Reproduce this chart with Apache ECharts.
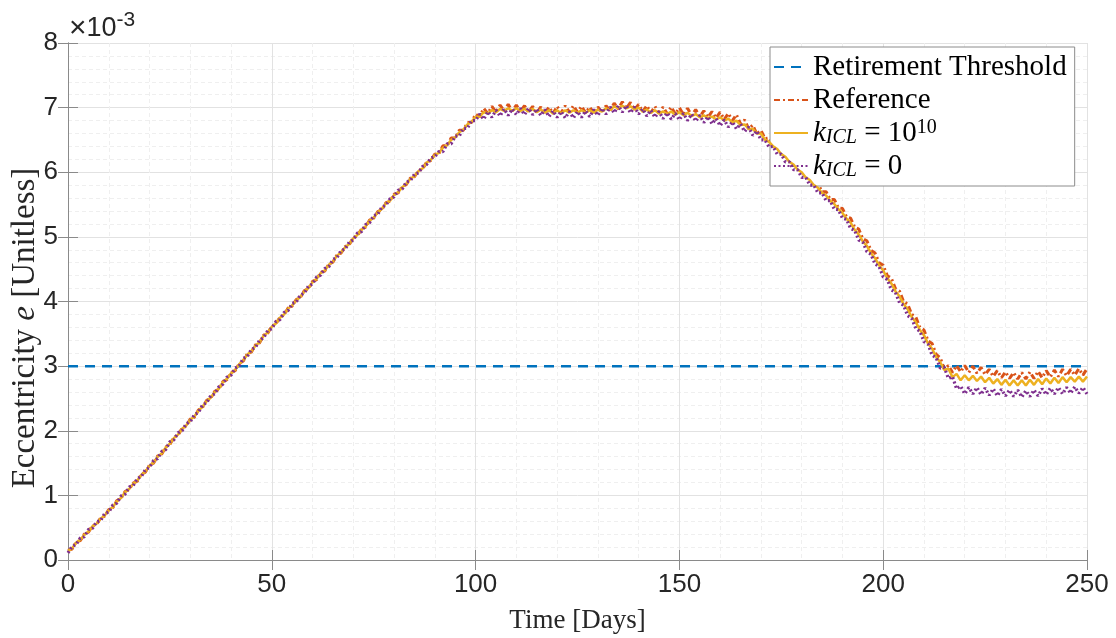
<!DOCTYPE html>
<html>
<head>
<meta charset="UTF-8">
<title>Eccentricity</title>
<script src="https://cdn.jsdelivr.net/npm/echarts@6/dist/echarts.min.js"></script>
<style>
  html, body { margin: 0; padding: 0; background: #ffffff; }
  #main { width: 1116px; height: 638px; }
</style>
</head>
<body>
<div id="main"></div>
<script>
// eccentricity in units of 1e-3, one value per day (day 0 .. 250)
var thresholdDays = [0, 250];
var thresholdValues = [3, 3];

var reference = [
  0.15,0.17,0.28,0.30,0.40,0.43,0.53,0.55,0.65,0.68,0.78,
  0.81,0.92,0.95,1.06,1.09,1.19,1.22,1.33,1.36,1.47,
  1.50,1.61,1.64,1.75,1.79,1.90,1.93,2.04,2.07,2.18,
  2.21,2.32,2.36,2.47,2.50,2.61,2.64,2.76,2.79,2.90,
  2.93,3.04,3.08,3.19,3.22,3.33,3.36,3.48,3.51,3.62,
  3.65,3.76,3.79,3.90,3.93,4.03,4.06,4.17,4.20,4.31,
  4.34,4.45,4.47,4.58,4.61,4.72,4.75,4.85,4.88,4.99,
  5.02,5.12,5.15,5.26,5.29,5.39,5.42,5.53,5.55,5.66,
  5.68,5.78,5.81,5.91,5.93,6.03,6.05,6.16,6.18,6.28,
  6.29,6.41,6.41,6.53,6.53,6.65,6.65,6.77,6.77,6.90,
  6.86,6.99,6.91,7.02,6.93,7.04,6.95,7.05,6.95,7.04,
  6.94,7.03,6.93,7.02,6.92,7.01,6.91,7.01,6.91,7.02,
  6.92,7.03,6.93,7.03,6.93,7.02,6.92,7.01,6.91,7.01,
  6.92,7.03,6.95,7.07,6.98,7.09,6.99,7.08,6.97,7.05,
  6.94,7.03,6.92,7.02,6.91,7.01,6.91,7.01,6.90,7.00,
  6.89,6.99,6.88,6.97,6.86,6.95,6.85,6.94,6.84,6.93,
  6.82,6.91,6.80,6.89,6.75,6.81,6.67,6.73,6.59,6.65,
  6.52,6.53,6.42,6.42,6.30,6.30,6.18,6.18,6.06,6.06,
  5.94,5.94,5.82,5.82,5.70,5.70,5.58,5.58,5.45,5.44,
  5.31,5.29,5.15,5.12,4.97,4.94,4.79,4.75,4.60,4.56,
  4.40,4.36,4.20,4.16,4.00,3.96,3.80,3.76,3.60,3.56,
  3.39,3.35,3.18,3.13,2.95,3.01,2.90,3.01,2.91,3.01,
  2.90,3.00,2.89,2.98,2.87,2.95,2.84,2.93,2.82,2.91,
  2.81,2.90,2.80,2.90,2.80,2.91,2.81,2.92,2.82,2.93,
  2.83,2.94,2.84,2.95,2.85,2.95,2.86,2.96,2.86,2.96
];

var kHigh = [
  0.14,0.18,0.27,0.31,0.39,0.44,0.52,0.56,0.64,0.69,0.77,
  0.82,0.91,0.96,1.05,1.10,1.18,1.23,1.32,1.37,1.46,
  1.51,1.60,1.65,1.74,1.80,1.89,1.94,2.03,2.08,2.17,
  2.22,2.31,2.37,2.46,2.51,2.60,2.65,2.75,2.80,2.89,
  2.94,3.03,3.09,3.18,3.23,3.32,3.37,3.47,3.52,3.61,
  3.66,3.75,3.80,3.89,3.94,4.02,4.07,4.16,4.21,4.30,
  4.35,4.44,4.48,4.57,4.62,4.71,4.76,4.84,4.89,4.98,
  5.03,5.11,5.16,5.25,5.30,5.38,5.43,5.52,5.56,5.65,
  5.69,5.77,5.82,5.90,5.94,6.02,6.06,6.15,6.19,6.27,
  6.30,6.38,6.42,6.50,6.54,6.62,6.66,6.74,6.78,6.86,
  6.86,6.93,6.91,6.96,6.93,6.98,6.95,6.99,6.95,6.99,
  6.95,6.98,6.94,6.98,6.93,6.97,6.92,6.96,6.91,6.96,
  6.91,6.96,6.92,6.96,6.92,6.96,6.92,6.96,6.92,6.97,
  6.94,6.99,6.96,7.02,6.99,7.03,6.99,7.02,6.97,7.00,
  6.94,6.97,6.92,6.96,6.91,6.94,6.90,6.94,6.89,6.93,
  6.88,6.92,6.87,6.90,6.85,6.88,6.84,6.86,6.82,6.85,
  6.80,6.83,6.77,6.80,6.73,6.74,6.67,6.67,6.60,6.60,
  6.50,6.47,6.40,6.36,6.28,6.24,6.16,6.12,6.04,6.00,
  5.92,5.88,5.80,5.76,5.68,5.64,5.56,5.51,5.43,5.37,
  5.28,5.22,5.11,5.04,4.93,4.86,4.75,4.67,4.56,4.48,
  4.36,4.28,4.16,4.08,3.96,3.88,3.76,3.68,3.56,3.48,
  3.35,3.27,3.14,3.06,2.94,2.96,2.83,2.88,2.78,2.86,
  2.78,2.85,2.77,2.84,2.75,2.82,2.73,2.80,2.71,2.79,
  2.70,2.78,2.70,2.78,2.70,2.79,2.71,2.80,2.72,2.81,
  2.73,2.82,2.74,2.83,2.75,2.83,2.76,2.84,2.76,2.84
];

var kZero = [
  0.11,0.21,0.24,0.34,0.36,0.47,0.49,0.59,0.61,0.72,0.74,
  0.85,0.88,0.99,1.02,1.13,1.15,1.26,1.29,1.40,1.43,
  1.54,1.57,1.68,1.71,1.83,1.86,1.97,2.00,2.11,2.14,
  2.25,2.28,2.40,2.43,2.54,2.57,2.68,2.72,2.83,2.86,
  2.97,3.00,3.12,3.15,3.26,3.29,3.40,3.44,3.55,3.58,
  3.69,3.72,3.83,3.86,3.97,3.99,4.10,4.13,4.24,4.27,
  4.38,4.41,4.51,4.54,4.65,4.68,4.79,4.81,4.92,4.95,
  5.06,5.08,5.19,5.22,5.33,5.35,5.46,5.49,5.59,5.62,
  5.72,5.74,5.85,5.87,5.97,5.99,6.09,6.12,6.22,6.24,
  6.32,6.32,6.44,6.44,6.56,6.56,6.68,6.68,6.80,6.80,
  6.90,6.82,6.94,6.85,6.96,6.87,6.98,6.88,6.98,6.89,
  6.99,6.89,6.99,6.89,6.98,6.88,6.97,6.86,6.95,6.85,
  6.94,6.84,6.94,6.84,6.94,6.85,6.95,6.86,6.97,6.88,
  6.99,6.90,7.01,6.92,7.03,6.93,7.03,6.92,7.01,6.90,
  6.98,6.87,6.96,6.85,6.94,6.83,6.92,6.82,6.91,6.81,
  6.91,6.80,6.90,6.79,6.88,6.77,6.86,6.75,6.83,6.72,
  6.81,6.70,6.78,6.67,6.75,6.63,6.70,6.57,6.64,6.50,
  6.50,6.39,6.40,6.28,6.28,6.16,6.16,6.04,6.04,5.92,
  5.92,5.80,5.80,5.68,5.68,5.56,5.56,5.43,5.42,5.29,
  5.27,5.13,5.10,4.95,4.92,4.77,4.73,4.58,4.54,4.38,
  4.34,4.18,4.14,3.98,3.94,3.78,3.74,3.58,3.54,3.38,
  3.34,3.17,3.13,2.97,2.98,2.81,2.84,2.65,2.69,2.57,
  2.67,2.57,2.67,2.56,2.66,2.55,2.65,2.54,2.64,2.54,
  2.63,2.53,2.63,2.52,2.62,2.53,2.63,2.54,2.65,2.56,
  2.66,2.57,2.67,2.57,2.67,2.58,2.68,2.58,2.67,2.57
];

var xTicks = { min: 0, max: 250, step: 50 };
var yTicks = { min: 0, max: 8, step: 1 };

function byDay(arr) {
  return arr.map(function (v, i) { return [i, v]; });
}

var serif = 'Liberation Serif';
var sans = 'Liberation Sans';
var gridLine = '#e2e2e2';
var minorLine = '#efefef';
var boxColor = '#8a8a8a';

var legendLabels = {
  'Retirement Threshold': '{rm|Retirement Threshold}',
  'Reference': '{rm|Reference}',
  'kHigh': '{it|k}{sub|ICL}{rm| = 10}{sup|10}',
  'kZero': '{it|k}{sub|ICL}{rm| = 0}'
};

var myChart = echarts.init(document.getElementById('main'));

var option = {
  backgroundColor: '#ffffff',
  animation: false,
  grid: {
    left: 68, right: 29, top: 43, bottom: 78,
    outerBoundsMode: 'none'
  },
  graphic: [{
    type: 'text',
    left: 69,
    top: 10,
    style: {
      text: '{x|×}{a|10}{b|-3}',
      rich: {
        x: { fontSize: 30, fontFamily: sans, fill: '#262626', lineHeight: 30 },
        a: { fontSize: 27, fontFamily: sans, fill: '#262626', lineHeight: 30 },
        b: { fontSize: 21, fontFamily: sans, fill: '#262626', lineHeight: 16, padding: [0, 0, 16, 0] }
      }
    }
  }, {
    // y axis title, rotated like the original
    type: 'text',
    x: 25,
    y: 328,
    rotation: Math.PI / 2,
    style: {
      text: '{rm|Eccentricity }{it|e}{rm| [Unitless]}',
      align: 'center',
      verticalAlign: 'middle',
      rich: {
        rm: { fontFamily: serif, fontSize: 33, fill: '#262626' },
        it: { fontFamily: serif, fontSize: 33, fontStyle: 'italic', fill: '#262626' }
      }
    }
  }],
  legend: {
    orient: 'vertical',
    left: 770,
    top: 47,
    padding: [5, 8, 5, 3],
    itemGap: 3,
    itemWidth: 34,
    itemHeight: 20,
    selectedMode: false,
    backgroundColor: '#ffffff',
    borderColor: '#8c8c8c',
    borderWidth: 1,
    itemStyle: { opacity: 0 },
    data: ['Retirement Threshold', 'Reference', 'kHigh', 'kZero'],
    formatter: function (name) { return legendLabels[name]; },
    textStyle: {
      color: '#000',
      fontFamily: serif,
      fontSize: 29,
      lineHeight: 30,
      rich: {
        rm: { fontFamily: serif, fontSize: 29, lineHeight: 30, color: '#000' },
        it: { fontFamily: serif, fontSize: 29, fontStyle: 'italic', lineHeight: 30, color: '#000' },
        sub: { fontFamily: serif, fontSize: 20, fontStyle: 'italic', lineHeight: 13, verticalAlign: 'bottom', color: '#000' },
        sup: { fontFamily: serif, fontSize: 20, lineHeight: 20, verticalAlign: 'top', color: '#000' }
      }
    }
  },
  xAxis: [{
    type: 'value',
    min: xTicks.min,
    max: xTicks.max,
    interval: xTicks.step,
    name: 'Time [Days]',
    nameLocation: 'middle',
    nameGap: 47,
    nameTextStyle: { fontFamily: serif, fontSize: 27, color: '#262626' },
    axisLine: { show: true, onZero: false, lineStyle: { color: boxColor, width: 1 } },
    axisTick: { show: true, inside: true, length: 10, lineStyle: { color: boxColor } },
    axisLabel: { fontFamily: sans, fontSize: 26, color: '#262626', margin: 12 },
    splitLine: { show: true, lineStyle: { color: gridLine, width: 1 } },
    minorTick: { show: false, splitNumber: 5 },
    minorSplitLine: { show: true, lineStyle: { color: minorLine, width: 1, type: [4, 3] } }
  }, {
    type: 'value',
    position: 'top',
    min: xTicks.min,
    max: xTicks.max,
    interval: xTicks.step,
    axisLine: { show: true, lineStyle: { color: boxColor, width: 1 } },
    axisTick: { show: true, inside: true, length: 10, lineStyle: { color: boxColor } },
    axisLabel: { show: false },
    splitLine: { show: false }
  }],
  yAxis: [{
    type: 'value',
    min: yTicks.min,
    max: yTicks.max,
    interval: yTicks.step,
    axisLine: { show: true, onZero: false, lineStyle: { color: boxColor, width: 1 } },
    axisTick: { show: true, inside: true, length: 10, lineStyle: { color: boxColor } },
    axisLabel: { fontFamily: sans, fontSize: 26, color: '#262626', margin: 10 },
    splitLine: { show: true, lineStyle: { color: gridLine, width: 1 } },
    minorTick: { show: false, splitNumber: 5 },
    minorSplitLine: { show: true, lineStyle: { color: minorLine, width: 1, type: [4, 3] } }
  }, {
    type: 'value',
    position: 'right',
    min: yTicks.min,
    max: yTicks.max,
    interval: yTicks.step,
    axisLine: { show: true, lineStyle: { color: boxColor, width: 1 } },
    axisTick: { show: true, inside: true, length: 10, lineStyle: { color: boxColor } },
    axisLabel: { show: false },
    splitLine: { show: false }
  }],
  series: [{
    name: 'Retirement Threshold',
    type: 'line',
    symbol: 'none',
    data: thresholdDays.map(function (d, i) { return [d, thresholdValues[i]]; }),
    lineStyle: { color: '#0072BD', width: 2.5, type: [10, 7] },
    itemStyle: { color: '#0072BD' },
    z: 2
  }, {
    name: 'Reference',
    type: 'line',
    symbol: 'none',
    data: byDay(reference),
    lineStyle: { color: '#D95319', width: 3, type: [6, 3, 2, 3] },
    itemStyle: { color: '#D95319' },
    z: 3
  }, {
    name: 'kHigh',
    type: 'line',
    symbol: 'none',
    data: byDay(kHigh),
    lineStyle: { color: '#EDB120', width: 2.5 },
    itemStyle: { color: '#EDB120' },
    z: 4
  }, {
    name: 'kZero',
    type: 'line',
    symbol: 'none',
    data: byDay(kZero),
    lineStyle: { color: '#7E2F8E', width: 3.2, type: [2, 2.5] },
    itemStyle: { color: '#7E2F8E' },
    z: 5
  }]
};

myChart.setOption(option);
</script>
</body>
</html>
